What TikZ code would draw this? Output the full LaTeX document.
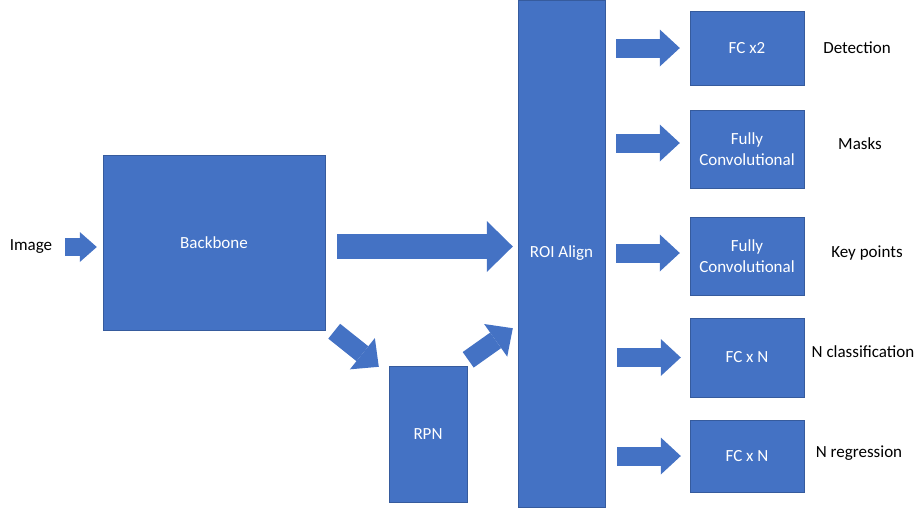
\documentclass[tikz,border=0pt]{standalone}
\usepackage{fontspec}
\setmainfont{Carlito}
\usetikzlibrary{arrows.meta}
\definecolor{boxblue}{HTML}{4472C4}
\begin{document}
\begin{tikzpicture}[x=1pt,y=-1pt,
  box/.style={fill=boxblue, draw=boxblue!80!black, line width=0.4pt, inner sep=0pt, text=white, align=center,
    font=\fontsize{17}{20.5}\selectfont},
  lbl/.style={inner sep=0pt, text=black, font=\fontsize{17}{20.5}\selectfont},
  barrow/.style={boxblue, line cap=butt, line width=19pt, -{Triangle[length=20pt, width=37pt, line width=0pt]}},
  bigarrow/.style={boxblue, line cap=butt, line width=25pt, -{Triangle[length=26pt, width=51pt, line width=0pt]}},
  smallarrow/.style={boxblue, line cap=butt, line width=18pt, -{Triangle[length=17pt, width=30pt, line width=0pt]}},
  diagarrow/.style={boxblue, line cap=butt, line width=19pt, -{Triangle[length=21pt, width=40pt, line width=0pt]}}]
\useasboundingbox (0,0) rectangle (918,509);
\node[lbl] (img) at (31,247) {Image};
\node[box, minimum width=222pt, minimum height=175pt] (bb) at (214,242.5) {Backbone};
\node[box, minimum width=78pt, minimum height=136pt] (rpn) at (428,434) {RPN};
\node[box, minimum width=87pt, minimum height=507pt] (roi) at (561.5,253.5) {ROI Align};
\node[box, minimum width=114pt, minimum height=74pt] (fc1) at (747,48) {FC x2};
\node[box, minimum width=114pt, minimum height=78pt] (fc2) at (747,149) {Fully\\Convolutional};
\node[box, minimum width=114pt, minimum height=78pt] (fc3) at (747,256) {Fully\\Convolutional};
\node[box, minimum width=114pt, minimum height=79pt] (fc4) at (747,357.5) {FC x N};
\node[box, minimum width=114pt, minimum height=72pt] (fc5) at (747,456) {FC x N};
\node[lbl] (l1) at (857,48) {Detection};
\node[lbl] (l2) at (860,144) {Masks};
\node[lbl] (l3) at (867,253) {Key points};
\node[lbl] (l4) at (863,352) {N classification};
\node[lbl] (l5) at (859,453) {N regression};
% arrows
\draw[smallarrow] ([xshift=13pt]img.east |- 0,247) -- ([xshift=-6pt]bb.west |- 0,247);
\draw[bigarrow] ([xshift=12pt]bb.east |- 0,246.5) -- ([xshift=-5pt]roi.west |- 0,246.5);
\draw[diagarrow] ([shift={(9,1)}]bb.south east) -- ([shift={(-10,1)}]rpn.north west);
\draw[diagarrow] ([shift={(1,-6)}]rpn.north east) -- ([shift={(-5,-179)}]roi.south west);
\draw[barrow] ([xshift=11pt]roi.east |- fc1) -- ([xshift=-10pt]fc1.west);
\draw[barrow] ([xshift=11pt]roi.east |- 0,143) -- ([xshift=-10pt]fc2.west |- 0,143);
\draw[barrow] ([xshift=11pt]roi.east |- 0,253) -- ([xshift=-10pt]fc3.west |- 0,253);
\draw[barrow] ([xshift=12pt]roi.east |- fc4) -- ([xshift=-9pt]fc4.west);
\draw[barrow] ([xshift=12pt]roi.east |- fc5) -- ([xshift=-9pt]fc5.west);
\end{tikzpicture}
\end{document}
